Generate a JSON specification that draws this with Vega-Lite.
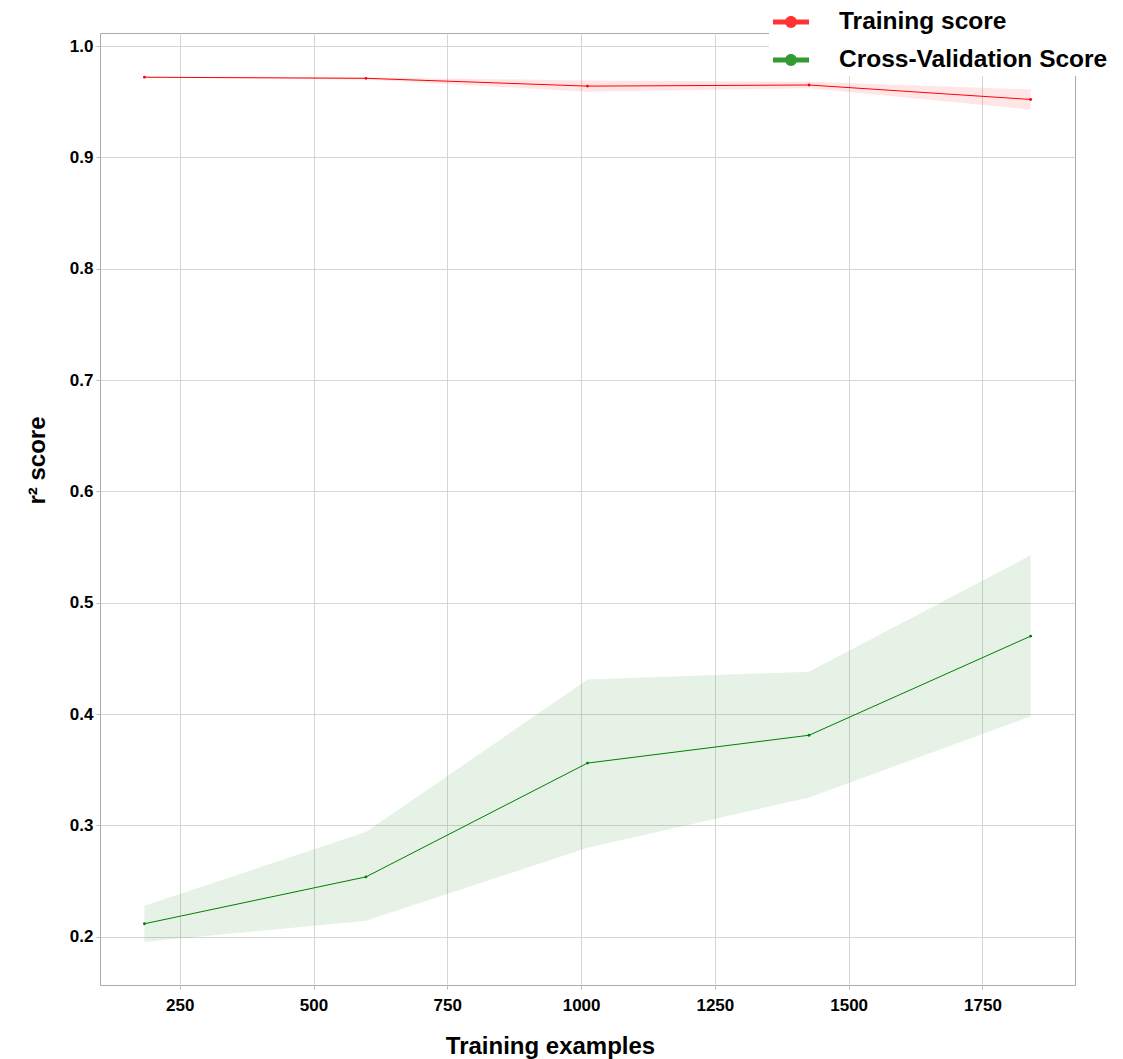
{
  "$schema": "https://vega.github.io/schema/vega-lite/v6.json",
  "autosize": {"type": "none"},
  "width": 975,
  "height": 952,
  "padding": {"left": 100, "top": 33, "right": 48, "bottom": 74},
  "background": "white",
  "config": {
    "font": "Liberation Sans",
    "view": {"stroke": "#aaaaaa", "strokeWidth": 1},
    "axis": {
      "gridColor": "#d6d6d6",
      "gridWidth": 1,
      "domain": false,
      "tickColor": "#bbbbbb",
      "tickSize": 4,
      "labelFont": "Liberation Sans",
      "labelFontWeight": "bold",
      "labelFontSize": 17,
      "labelColor": "#000000",
      "titleFont": "Liberation Sans",
      "titleFontWeight": "bold",
      "titleFontSize": 24,
      "titleColor": "#000000"
    }
  },
  "data": {
    "values": [
      {"n": 184, "series": "Training score", "score": 0.972, "lo": 0.9715, "hi": 0.9725},
      {"n": 598, "series": "Training score", "score": 0.971, "lo": 0.970, "hi": 0.972},
      {"n": 1012, "series": "Training score", "score": 0.964, "lo": 0.959, "hi": 0.969},
      {"n": 1426, "series": "Training score", "score": 0.965, "lo": 0.962, "hi": 0.968},
      {"n": 1840, "series": "Training score", "score": 0.952, "lo": 0.943, "hi": 0.961},
      {"n": 184, "series": "Cross-Validation Score", "score": 0.2117, "lo": 0.1955, "hi": 0.2278},
      {"n": 598, "series": "Cross-Validation Score", "score": 0.2538, "lo": 0.2143, "hi": 0.294},
      {"n": 1012, "series": "Cross-Validation Score", "score": 0.356, "lo": 0.280, "hi": 0.431},
      {"n": 1426, "series": "Cross-Validation Score", "score": 0.381, "lo": 0.325, "hi": 0.438},
      {"n": 1840, "series": "Cross-Validation Score", "score": 0.470, "lo": 0.398, "hi": 0.5426}
    ]
  },
  "encoding": {
    "x": {
      "field": "n",
      "type": "quantitative",
      "scale": {"domain": [101, 1923], "nice": false, "zero": false},
      "axis": {
        "values": [250, 500, 750, 1000, 1250, 1500, 1750],
        "format": "d",
        "title": "Training examples",
        "labelPadding": 8,
        "titleX": 450,
        "titleY": 68,
        "titleBaseline": "alphabetic"
      }
    },
    "color": {
      "field": "series",
      "type": "nominal",
      "scale": {"domain": ["Training score", "Cross-Validation Score"], "range": ["#ff0000", "#008000"]},
      "legend": {
        "title": null,
        "orient": "none",
        "legendX": 669,
        "legendY": -33,
        "padding": 4,
        "fillColor": "white",
        "strokeColor": null,
        "rowPadding": 8,
        "labelFont": "Liberation Sans",
        "labelFontWeight": "bold",
        "labelFontSize": 24.5,
        "labelColor": "#000000",
        "labelOffset": 30,
        "labelLimit": 0,
        "symbolType": "M-1,-0.14 L1,-0.14 L1,0.14 L-1,0.14 Z M0.33,0 A0.33,0.33 0 1 1 -0.33,0 A0.33,0.33 0 1 1 0.33,0 Z",
        "symbolSize": 1296,
        "symbolOpacity": 0.8,
        "symbolStrokeWidth": 0
      }
    }
  },
  "layer": [
    {
      "mark": {"type": "area", "opacity": 0.1},
      "encoding": {
        "y": {
          "field": "lo",
          "type": "quantitative",
          "scale": {"domain": [0.1567, 1.0117], "nice": false, "zero": false},
          "axis": {
            "values": [0.2, 0.3, 0.4, 0.5, 0.6, 0.7, 0.8, 0.9, 1.0],
            "format": ".1f",
            "title": "r² score",
            "labelPadding": 3,
            "titleAngle": -90,
            "titleX": -63,
            "titleY": 427,
            "titleAlign": "center",
            "titleBaseline": "middle"
          }
        },
        "y2": {"field": "hi"}
      }
    },
    {
      "mark": {"type": "line", "strokeWidth": 1},
      "encoding": {"y": {"field": "score", "type": "quantitative"}}
    },
    {
      "mark": {"type": "point", "filled": true, "size": 8, "opacity": 1},
      "encoding": {"y": {"field": "score", "type": "quantitative"}}
    }
  ]
}
